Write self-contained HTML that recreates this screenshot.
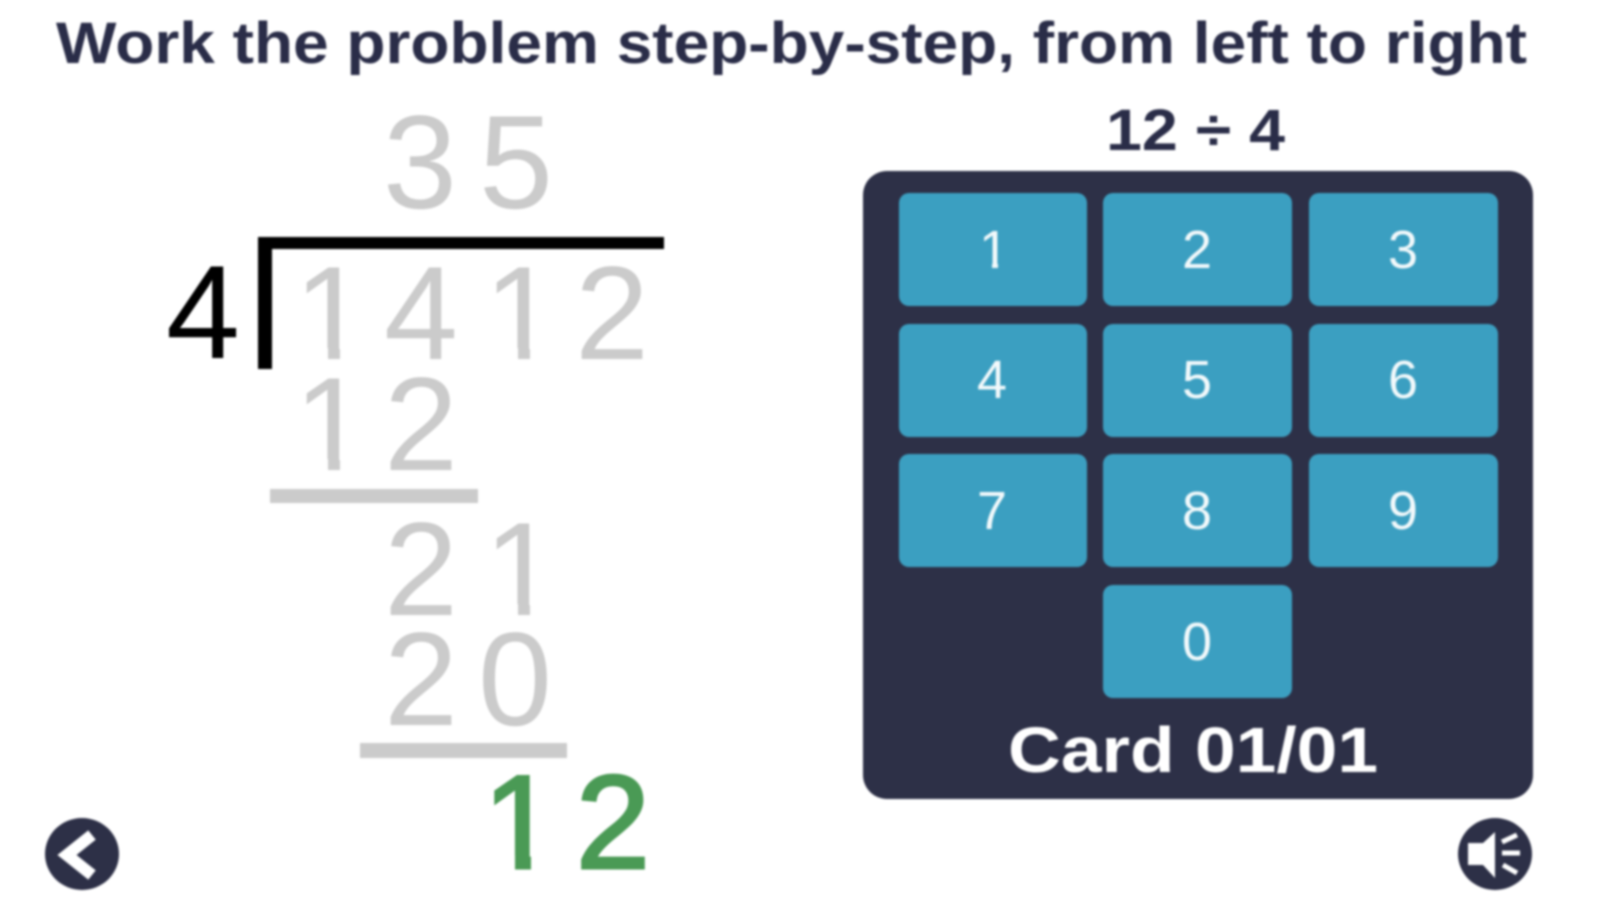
<!DOCTYPE html>
<html>
<head>
<meta charset="utf-8">
<style>
html,body{margin:0;padding:0;background:#fff;width:1599px;height:900px;overflow:hidden}
svg{display:block;filter:blur(1px)}
text{font-family:"Liberation Sans",sans-serif}
.g{fill:#cbcbcb}
.k{fill:#f2f9fb;font-size:54px;text-anchor:middle}
.b{font-weight:bold}
</style>
</head>
<body>
<svg width="1599" height="900" viewBox="0 0 1599 900" xmlns="http://www.w3.org/2000/svg">
<rect width="1599" height="900" fill="#fff"/>
<text class="b" x="56" y="63" font-size="58" fill="#2a2d48" textLength="1471" lengthAdjust="spacingAndGlyphs">Work the problem step-by-step, from left to right</text>

<text class="g" font-size="133" x="383" y="208">3</text>
<text class="g" font-size="133" x="479" y="208">5</text>

<text font-size="133" x="166" y="358" fill="#000">4</text>
<rect x="258" y="237" width="14" height="132" fill="#000"/>
<rect x="258" y="237" width="406" height="12" fill="#000"/>

<text class="g" font-size="133" x="294" y="359">1</text>
<rect x="300" y="348" width="28" height="13" fill="#fff"/>
<rect x="340" y="348" width="26" height="13" fill="#fff"/>
<text class="g" font-size="133" x="384" y="359">4</text>
<text class="g" font-size="133" x="484" y="359">1</text>
<rect x="490" y="348" width="28" height="13" fill="#fff"/>
<rect x="530" y="348" width="26" height="13" fill="#fff"/>
<text class="g" font-size="133" x="575" y="359">2</text>

<text class="g" font-size="133" x="294" y="470">1</text>
<rect x="300" y="459" width="28" height="13" fill="#fff"/>
<rect x="340" y="459" width="26" height="13" fill="#fff"/>
<text class="g" font-size="133" x="384" y="470">2</text>
<rect x="270" y="489" width="208" height="14" fill="#cbcbcb"/>

<text class="g" font-size="133" x="384" y="615">2</text>
<text class="g" font-size="133" x="484" y="615">1</text>
<rect x="490" y="604" width="28" height="13" fill="#fff"/>
<rect x="530" y="604" width="26" height="13" fill="#fff"/>
<text class="g" font-size="133" x="384" y="725">2</text>
<text class="g" font-size="133" x="478" y="725">0</text>
<rect x="360" y="743" width="207" height="15" fill="#cbcbcb"/>

<text font-size="133" x="483" y="868" fill="#4a9a55" stroke="#4a9a55" stroke-width="3">1</text>
<rect x="487" y="855" width="28" height="16" fill="#fff"/>
<rect x="531" y="855" width="28" height="16" fill="#fff"/>
<text font-size="133" x="576" y="868" fill="#4a9a55" stroke="#4a9a55" stroke-width="3">2</text>

<text class="b" x="1106" y="150" font-size="58" fill="#2a2d48" textLength="179" lengthAdjust="spacingAndGlyphs">12 ÷ 4</text>

<rect x="863" y="171" width="670" height="628" rx="24" fill="#2d3047"/>
<g fill="#3b9fc1">
<rect x="899" y="193" width="188" height="113" rx="10"/>
<rect x="1103" y="193" width="189" height="113" rx="10"/>
<rect x="1309" y="193" width="189" height="113" rx="10"/>
<rect x="899" y="324" width="188" height="113" rx="10"/>
<rect x="1103" y="324" width="189" height="113" rx="10"/>
<rect x="1309" y="324" width="189" height="113" rx="10"/>
<rect x="899" y="454" width="188" height="113" rx="10"/>
<rect x="1103" y="454" width="189" height="113" rx="10"/>
<rect x="1309" y="454" width="189" height="113" rx="10"/>
<rect x="1103" y="585" width="189" height="113" rx="10"/>
</g>
<text class="k" x="994" y="268">1</text>
<rect x="980" y="263.5" width="12" height="6" fill="#3b9fc1"/>
<rect x="998" y="263.5" width="12" height="6" fill="#3b9fc1"/>
<text class="k" x="1197" y="268">2</text>
<text class="k" x="1403" y="268">3</text>
<text class="k" x="992" y="398">4</text>
<text class="k" x="1197" y="398">5</text>
<text class="k" x="1403" y="398">6</text>
<text class="k" x="992" y="529">7</text>
<text class="k" x="1197" y="529">8</text>
<text class="k" x="1403" y="529">9</text>
<text class="k" x="1197" y="660">0</text>

<text class="b" x="1008" y="772" font-size="64" fill="#fff" textLength="370" lengthAdjust="spacingAndGlyphs">Card 01/01</text>

<ellipse cx="82" cy="854" rx="37" ry="36" fill="#2d3047"/>
<polyline points="92,835 67,855 92,875" fill="none" stroke="#fff" stroke-width="12" stroke-linecap="butt" stroke-linejoin="miter"/>

<ellipse cx="1495" cy="854" rx="37" ry="36" fill="#2d3047"/>
<polygon points="1468,843 1483,843 1495,832 1495,878 1483,865 1468,865" fill="#fff"/>
<g stroke="#fff" stroke-width="5" fill="none">
<line x1="1502" y1="842" x2="1517" y2="835"/>
<line x1="1502" y1="853" x2="1520" y2="853"/>
<line x1="1503" y1="865" x2="1517" y2="873"/>
</g>
</svg>
</body>
</html>
